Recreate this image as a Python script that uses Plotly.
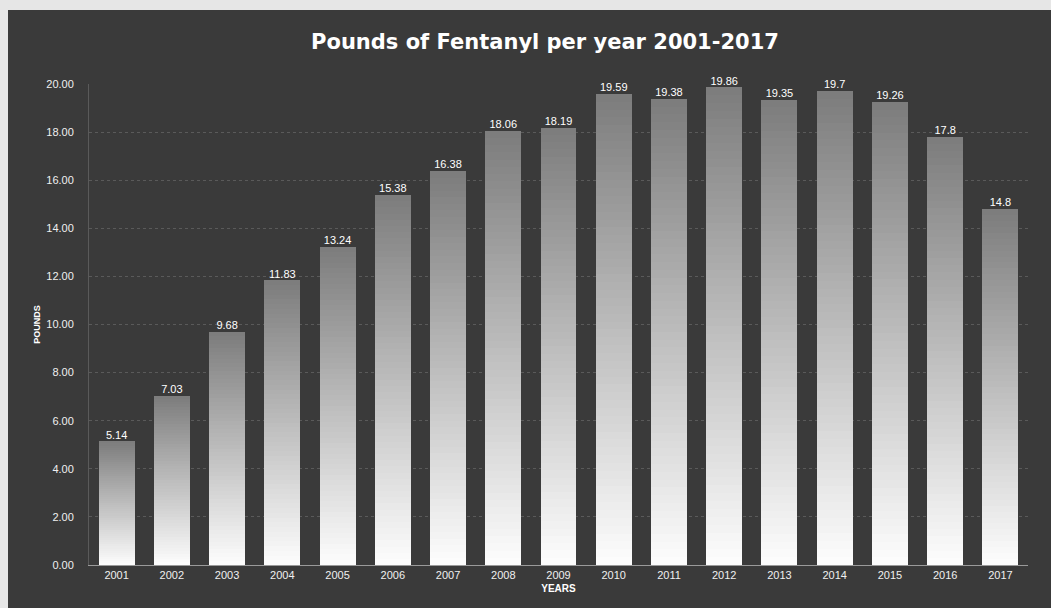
import plotly.graph_objects as go

years = ["2001", "2002", "2003", "2004", "2005", "2006", "2007", "2008", "2009",
         "2010", "2011", "2012", "2013", "2014", "2015", "2016", "2017"]
pounds = [5.14, 7.03, 9.68, 11.83, 13.24, 15.38, 16.38, 18.06, 18.19,
          19.59, 19.38, 19.86, 19.35, 19.7, 19.26, 17.8, 14.8]
value_labels = ["5.14", "7.03", "9.68", "11.83", "13.24", "15.38", "16.38", "18.06", "18.19",
                "19.59", "19.38", "19.86", "19.35", "19.7", "19.26", "17.8", "14.8"]

W, H = 1051, 608
ML, MR, MT, MB = 89, 23, 84, 43
FONT = "Liberation Sans Narrow, Liberation Sans, Arial"

# Vertical gradient on each bar: stack equal slices, light at the base, grey at the top
N = 60
top_rgb = (125, 125, 125)
bot_rgb = (252, 252, 252)

fig = go.Figure()
for i in range(N):
    t = i / (N - 1)
    c = tuple(round(bot_rgb[k] + (top_rgb[k] - bot_rgb[k]) * t) for k in range(3))
    fig.add_trace(go.Bar(
        x=years,
        y=[v / N for v in pounds],
        marker=dict(color="rgb(%d,%d,%d)" % c, line=dict(width=0)),
        width=0.65,
        showlegend=False,
        hoverinfo="skip",
    ))

# Value labels above the bars
fig.add_trace(go.Scatter(
    x=years, y=pounds, mode="text", text=value_labels,
    textposition="top center",
    textfont=dict(color="white", size=11, family=FONT),
    showlegend=False, hoverinfo="skip", cliponaxis=False,
))

pw = W - ML - MR
ph = H - MT - MB
# dark chart panel sitting on the light page
fig.add_shape(type="rect", xref="paper", yref="paper",
              x0=(8 - ML) / pw, x1=(W - ML + 5) / pw,
              y0=-(MB + 5) / ph, y1=1 + (MT - 10) / ph,
              fillcolor="#3a3a3a", line=dict(width=0), layer="below")

fig.update_layout(
    width=W, height=H,
    barmode="stack", bargap=0.35,
    paper_bgcolor="#e6e6e6", plot_bgcolor="rgba(0,0,0,0)",
    margin=dict(l=ML, r=MR, t=MT, b=MB),
    title=dict(text="<b>Pounds of Fentanyl per year 2001-2017</b>",
               xref="container", x=545 / W, xanchor="center",
               y=1 - 42 / H, yanchor="middle",
               font=dict(color="white", size=21, family="DejaVu Sans")),
    font=dict(family=FONT, color="white", size=11),
)
fig.update_xaxes(
    type="category", range=[-0.5, 16.5],
    showgrid=False, showline=True, linecolor="#9a9a9a", linewidth=1,
    ticks="", tickfont=dict(color="#f0f0f0", size=11, family=FONT),
    title=dict(text="<b>YEARS</b>", font=dict(color="white", size=10, family=FONT), standoff=4),
)
fig.update_yaxes(
    range=[0, 20], tickvals=[0, 2, 4, 6, 8, 10, 12, 14, 16, 18, 20], tickformat=".2f",
    showgrid=True, gridcolor="#5a5a5a", griddash="dot", gridwidth=1,
    showline=True, linecolor="#5a5a5a", zeroline=False,
    ticks="", ticklabelstandoff=12,
    tickfont=dict(color="#f0f0f0", size=11, family=FONT),
    title=dict(text="<b>POUNDS</b>", font=dict(color="white", size=9, family=FONT), standoff=4),
)

fig.write_html("out.html")
